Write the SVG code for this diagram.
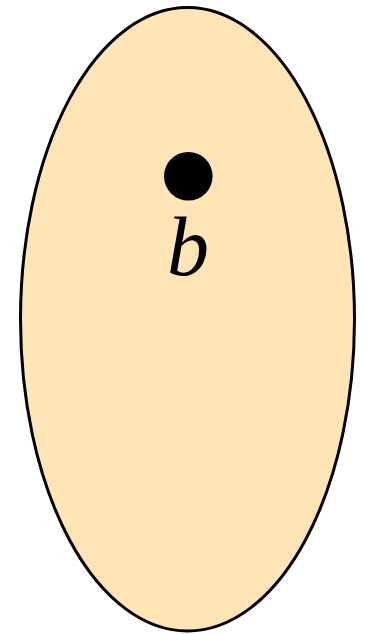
<svg xmlns="http://www.w3.org/2000/svg" width="365" height="634" viewBox="0 0 365 634">
<style>
.shape{fill:#ffe4b5;stroke:#000;stroke-width:3}
.lbl{font-family:"Liberation Serif","Times New Roman",serif;font-style:italic;font-size:84px;fill:#000}
</style>
<g id="set-b">
<ellipse class="shape" cx="187.5" cy="319.3" rx="167" ry="311.7"/>
<circle cx="188.3" cy="176.2" r="24.3" fill="#000"/>
<text class="lbl" x="188" y="275" text-anchor="middle">b</text>
</g>
<g id="connectors"/>
</svg>
